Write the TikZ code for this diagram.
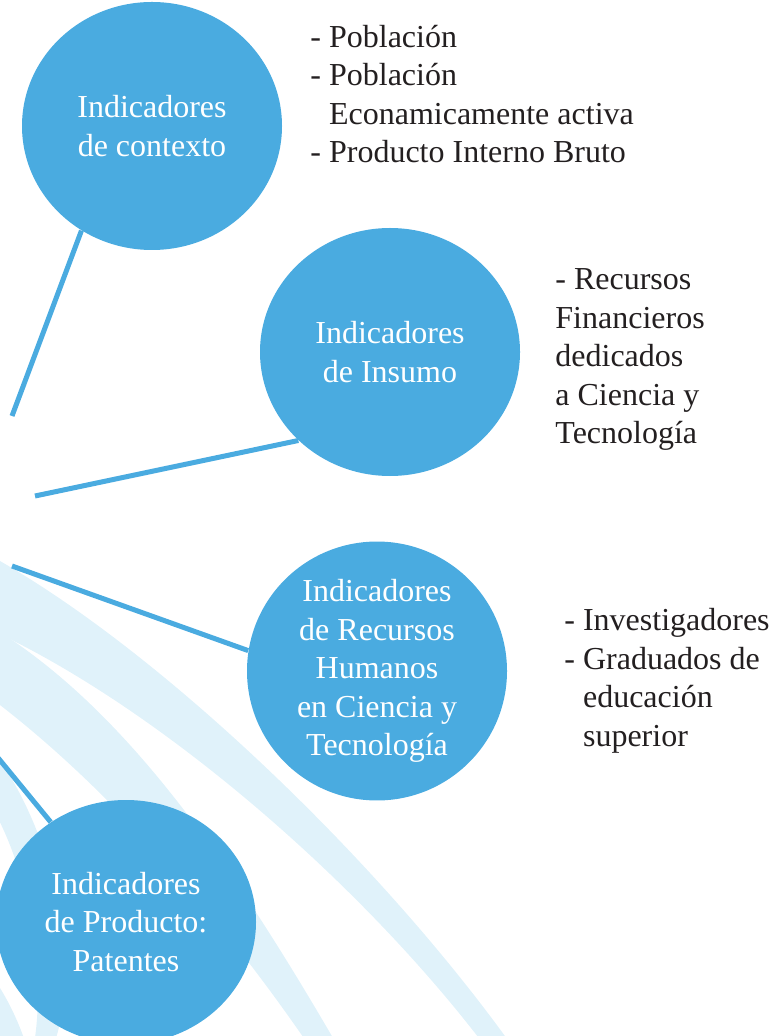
\documentclass[tikz,border=0pt]{standalone}
\usepackage{fontspec}
\setmainfont{Liberation Serif}
\usetikzlibrary{shapes.geometric}

\definecolor{indblue}{RGB}{74,171,224}
\definecolor{bandblue}{RGB}{224,242,250}
\definecolor{listgray}{RGB}{35,31,32}

\tikzstyle{indicator} = [ellipse, fill=indblue, text=white, align=center,
    inner sep=0pt, minimum width=130pt, minimum height=124pt]
\tikzstyle{items} = [anchor=base west, align=left, text=listgray, inner sep=0pt]
\tikzstyle{link} = [draw=indblue, line width=2.5pt]
\tikzstyle{band} = [fill=bandblue]

\begin{document}
\begin{tikzpicture}[x=0.5pt, y=-0.5pt, font=\fontsize{16}{19.25}\selectfont]
    \useasboundingbox (0,0) rectangle (768,1036);
    \clip (0,0) rectangle (768,1036);

    \fill [band] (-20,550) .. controls (150,640) and (380,860) .. (515,1050)
        -- (488,1050) .. controls (360,880) and (150,700) .. (-20,625) -- cycle;
    \fill [band] (-20,620) .. controls (120,700) and (230,860) .. (340,1050)
        -- (312,1050) .. controls (210,900) and (90,770) .. (-20,690) -- cycle;
    \fill [band] (-20,735) .. controls (40,800) and (90,950) .. (52,1050)
        -- (33,1050) .. controls (50,960) and (20,840) .. (-20,790) -- cycle;
    \fill [band] (-20,960) .. controls (0,985) and (15,1010) .. (28,1050)
        -- (-20,1050) -- cycle;

    \node [indicator] (contexto) at (152,126) {Indicadores\\de contexto};
    \node [indicator] (insumo) at (390,352) {Indicadores\\de Insumo};
    \node [indicator, minimum height=120pt] (recursos) at (377,671)
        {Indicadores\\de Recursos\\Humanos\\en Ciencia y\\Tecnología};
    \node [indicator, minimum height=122pt] (producto) at (126,922)
        {Indicadores\\de Producto:\\Patentes};

    \node [items] (listcontexto) at (310,163)
        {- Población\\- Población\\\hphantom{- }Econamicamente activa\\- Producto Interno Bruto};
    \node [items] (listinsumo) at (555,444)
        {- Recursos\\Financieros\\dedicados\\a Ciencia y\\Tecnología};
    \node [items] (listrecursos) at (564,746)
        {- Investigadores\\- Graduados de\\\hphantom{- }educación\\\hphantom{- }superior};

    \coordinate (hub1) at (12,416);
    \coordinate (hub2) at (35,496);
    \coordinate (hub3) at (12,566);
    \coordinate (hub4) at (-10,748);

    \draw [link] (contexto.236) -- (hub1);
    \draw [link] (insumo.224) -- (hub2);
    \draw [link] (recursos.171) -- (hub3);
    \draw [link] (producto.127) -- (hub4);
\end{tikzpicture}
\end{document}
